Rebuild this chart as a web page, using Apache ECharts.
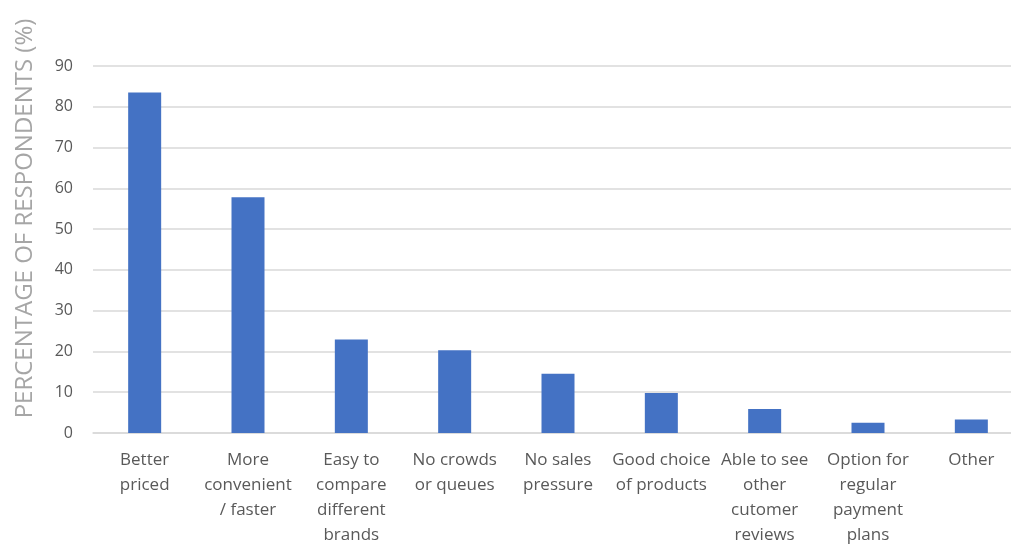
<!DOCTYPE html>
<html>
<head>
<meta charset="utf-8">
<script src="https://cdn.jsdelivr.net/npm/echarts@6/dist/echarts.min.js"></script>
<style>
  html, body { margin: 0; padding: 0; background: #ffffff; }
  #chart { width: 1011px; height: 545px; }
</style>
</head>
<body>
<div id="chart"></div>
<script>
// Reasons for buying online
const categories = [
  'Better\npriced',
  'More\nconvenient\n/ faster',
  'Easy to\ncompare\ndifferent\nbrands',
  'No crowds\nor queues',
  'No sales\npressure',
  'Good choice\nof products',
  'Able to see\nother\ncutomer\nreviews',
  'Option for\nregular\npayment\nplans',
  'Other'
];
const percentages = [83.5, 57.8, 22.9, 20.3, 14.5, 9.8, 5.9, 2.5, 3.3];
const yTicks = { min: 0, max: 90, interval: 10 };
const yAxisTitle = 'PERCENTAGE OF RESPONDENTS (%)';

const font = '"Open Sans", "Noto Sans", sans-serif';
const chart = echarts.init(document.getElementById('chart'), null, { renderer: 'canvas' });

chart.setOption({
  animation: false,
  backgroundColor: '#ffffff',
  grid: {
    left: 93, top: 66, width: 930, bottom: 112,
    containLabel: false,
    outerBoundsMode: 'none'
  },
  xAxis: {
    type: 'category',
    data: categories,
    axisLine: { lineStyle: { color: '#d9d9d9', width: 1.5 } },
    axisTick: { show: false },
    axisLabel: {
      interval: 0,
      margin: 15,
      color: '#595959',
      fontFamily: font,
      fontSize: 17,
      lineHeight: 25,
      align: 'center'
    }
  },
  yAxis: {
    type: 'value',
    min: yTicks.min,
    max: yTicks.max,
    interval: yTicks.interval,
    name: yAxisTitle,
    nameLocation: 'middle',
    nameGap: 56,
    nameRotate: 90,
    nameTextStyle: {
      color: '#a6a6a6',
      fontFamily: font,
      fontSize: 24,
      padding: [0, 0, 0, 62]
    },
    axisLine: { show: false },
    axisTick: { show: false },
    splitLine: { lineStyle: { color: '#d9d9d9', width: 1.5 } },
    axisLabel: {
      margin: 20,
      color: '#595959',
      fontFamily: font,
      fontSize: 16
    }
  },
  series: [{
    type: 'bar',
    data: percentages,
    barWidth: 33,
    itemStyle: { color: '#4472c4' }
  }]
});
</script>
</body>
</html>
